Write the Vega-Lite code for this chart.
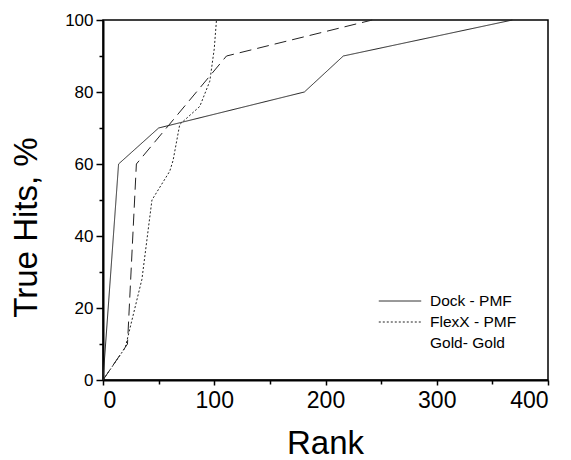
{
  "$schema": "https://vega.github.io/schema/vega-lite/v6.json",
  "autosize": "none",
  "width": 445,
  "height": 360,
  "padding": {"left": 103, "top": 20, "right": 23, "bottom": 80},
  "config": {
    "view": {"stroke": "black", "strokeWidth": 1.5},
    "font": "Liberation Sans",
    "axis": {"domainColor": "black", "domainWidth": 2, "tickColor": "black", "tickWidth": 1.5, "labelColor": "black", "titleColor": "black", "grid": false, "labelFont": "Liberation Sans", "titleFont": "Liberation Sans", "titleFontWeight": "normal"}
  },
  "data": {"values": [
    {"method": "Dock - PMF", "rank": 0, "hits": 0},
    {"method": "Dock - PMF", "rank": 14, "hits": 60},
    {"method": "Dock - PMF", "rank": 50, "hits": 70},
    {"method": "Dock - PMF", "rank": 181, "hits": 80},
    {"method": "Dock - PMF", "rank": 216, "hits": 90},
    {"method": "Dock - PMF", "rank": 368, "hits": 100},
    {"method": "FlexX - PMF", "rank": 0, "hits": 0},
    {"method": "FlexX - PMF", "rank": 20, "hits": 9},
    {"method": "FlexX - PMF", "rank": 35, "hits": 28},
    {"method": "FlexX - PMF", "rank": 44, "hits": 50},
    {"method": "FlexX - PMF", "rank": 60, "hits": 58},
    {"method": "FlexX - PMF", "rank": 63, "hits": 61},
    {"method": "FlexX - PMF", "rank": 69, "hits": 71},
    {"method": "FlexX - PMF", "rank": 87, "hits": 76},
    {"method": "FlexX - PMF", "rank": 96, "hits": 83},
    {"method": "FlexX - PMF", "rank": 100, "hits": 92},
    {"method": "FlexX - PMF", "rank": 102, "hits": 100},
    {"method": "Gold- Gold", "rank": 0, "hits": 0},
    {"method": "Gold- Gold", "rank": 22, "hits": 10},
    {"method": "Gold- Gold", "rank": 30, "hits": 60},
    {"method": "Gold- Gold", "rank": 111, "hits": 90},
    {"method": "Gold- Gold", "rank": 242, "hits": 100}
  ]},
  "resolve": {"axis": {"x": "independent", "y": "independent"}},
  "layer": [
    {
      "mark": {"type": "line", "color": "#222", "strokeWidth": 1},
      "encoding": {
        "x": {"field": "rank", "type": "quantitative", "scale": {"domain": [0, 400], "nice": false}, "axis": {"orient": "bottom", "values": [0, 100, 200, 300, 400], "title": "Rank", "labelFontSize": 23, "titleFontSize": 33, "tickSize": 5, "labelPadding": 4, "titleX": 222, "titleY": 80, "titleBaseline": "bottom", "titleAlign": "center"}},
        "y": {"field": "hits", "type": "quantitative", "scale": {"domain": [0, 100], "nice": false}, "axis": {"orient": "left", "values": [0, 20, 40, 60, 80, 100], "title": "True Hits, %", "labelFontSize": 17, "titleFontSize": 33, "tickSize": 7, "labelPadding": 3, "titleX": -67, "titleY": 207, "titleAngle": -90, "titleBaseline": "alphabetic", "titleAlign": "center"}},
        "strokeDash": {"field": "method", "type": "nominal", "scale": {"domain": ["Dock - PMF", "FlexX - PMF", "Gold- Gold"], "range": [[1, 0], [2, 2], [12, 6]]}, "legend": {"title": null, "orient": "none", "legendX": 275, "legendY": 271, "symbolType": "stroke", "symbolSize": 1800, "clipHeight": 20, "symbolStrokeWidth": 1, "symbolStrokeColor": "#222", "labelFontSize": 15.5, "labelColor": "black", "rowPadding": 1, "labelOffset": 8, "encode": {"symbols": {"update": {"opacity": {"signal": "datum.value === 'Gold- Gold' ? 0 : 1"}}}}}},
        "detail": {"field": "method"}
      }
    },
    {
      "mark": {"type": "rule", "opacity": 0},
      "encoding": {
        "x": {"field": "rank", "type": "quantitative", "axis": {"orient": "bottom", "values": [50, 150, 250, 350], "labels": false, "title": null, "tickSize": 4, "domain": false}},
        "y": {"field": "hits", "type": "quantitative", "axis": {"orient": "left", "values": [10, 30, 50, 70, 90], "labels": false, "title": null, "tickSize": 4, "domain": false}}
      }
    }
  ]
}
